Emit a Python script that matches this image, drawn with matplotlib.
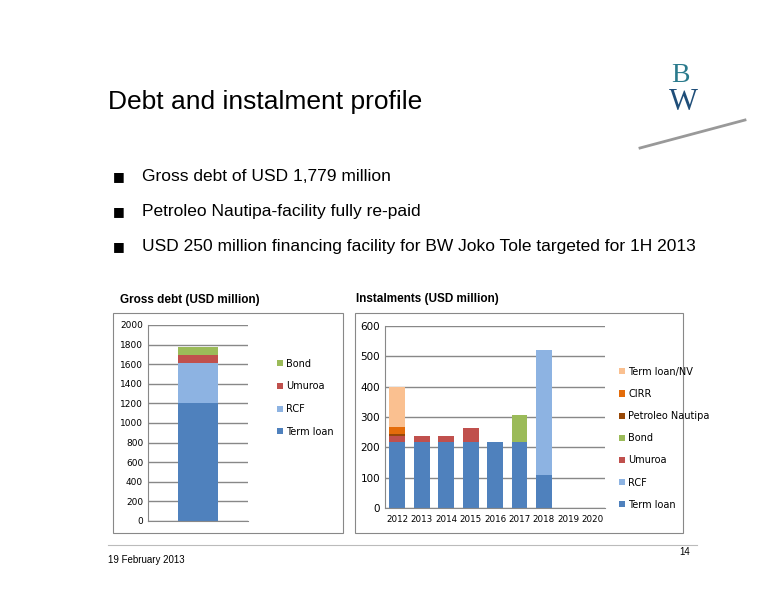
import matplotlib.pyplot as plt
from matplotlib.patches import Rectangle

# Gross debt (left)
gross_labels = ["Term loan", "RCF", "Umuroa", "Bond"]
gross_values = [1200, 410, 80, 89]
gross_colors = ["#4f81bd", "#8db3e2", "#c0504d", "#9bbb59"]

# Instalments (right)
years = ["2012", "2013", "2014", "2015", "2016", "2017", "2018", "2019", "2020"]
inst_series = {
    "Term loan":        [218, 218, 218, 218, 218, 218, 108, 0, 0],
    "RCF":              [0, 0, 0, 0, 0, 0, 412, 0, 0],
    "Umuroa":           [20, 18, 18, 47, 0, 0, 0, 0, 0],
    "Bond":             [0, 0, 0, 0, 0, 88, 0, 0, 0],
    "Petroleo Nautipa": [5, 0, 0, 0, 0, 0, 0, 0, 0],
    "CIRR":             [23, 0, 0, 0, 0, 0, 0, 0, 0],
    "Term loan/NV":     [134, 0, 0, 0, 0, 0, 0, 0, 0],
}
inst_colors = ["#4f81bd", "#8db3e2", "#c0504d", "#9bbb59", "#984807", "#e46c0a", "#fac090"]

W, H = 776, 600
fig = plt.figure(figsize=(W / 100, H / 100), dpi=100)

def fx(x): return x / W
def fy(y): return 1 - y / H

# title and bullets
fig.text(fx(108), fy(102), "Debt and instalment profile", fontsize=19, va="center", family="Liberation Sans")
bullets = ["Gross debt of USD 1,779 million",
           "Petroleo Nautipa-facility fully re-paid",
           "USD 250 million financing facility for BW Joko Tole targeted for 1H 2013"]
for i, b in enumerate(bullets):
    y = 177 + i * 35
    fig.text(fx(113), fy(y), "\u25a0", fontsize=9, va="center", family="DejaVu Sans")
    fig.text(fx(142), fy(y), b, fontsize=12.5, va="center", family="Liberation Sans")

# logo
fig.text(fx(680), fy(76), "B", fontsize=20, color="#2a7a8c", ha="center", va="center", family="Liberation Serif")
fig.text(fx(683), fy(103), "W", fontsize=22, color="#1f4e79", ha="center", va="center", family="Liberation Serif")
fig.add_artist(plt.Line2D([fx(640), fx(745)], [fy(148), fy(120)], color="#999999", lw=2))

fig.text(fx(120), fy(300), "Gross debt (USD million)", fontsize=8.5, weight="bold", va="center", family="Liberation Sans")
fig.text(fx(356), fy(299), "Instalments (USD million)", fontsize=8.5, weight="bold", va="center", family="Liberation Sans")

# frames
for x0, x1 in [(113, 343), (355, 683)]:
    fig.add_artist(Rectangle((fx(x0), fy(533)), fx(x1 - x0), (533 - 313) / H,
                             fill=False, ec="#888888", lw=0.8))

def style(ax):
    for s in ["top", "right"]:
        ax.spines[s].set_visible(False)
    ax.spines["left"].set_color("#888888")
    ax.spines["bottom"].set_color("#888888")
    ax.yaxis.grid(True, color="#888888", lw=1)
    ax.set_axisbelow(True)
    ax.tick_params(labelsize=6.5, length=0)

# left chart
ax1 = fig.add_axes([fx(148), fy(521), fx(100), (521 - 325) / H])
bottom = 0
for lab, v, c in zip(gross_labels, gross_values, gross_colors):
    ax1.bar([0], [v], bottom=bottom, width=0.4, color=c, label=lab)
    bottom += v
ax1.set_xlim(-0.5, 0.5)
ax1.set_ylim(0, 2000)
ax1.set_yticks(range(0, 2001, 200))
ax1.set_xticks([])
style(ax1)
h, l = ax1.get_legend_handles_labels()
fig.legend(h[::-1], l[::-1], loc="upper left", bbox_to_anchor=(fx(268), fy(350)),
           frameon=False, fontsize=7, handlelength=0.6, handleheight=0.6,
           labelspacing=1.3, handletextpad=0.4)

# right chart
ax2 = fig.add_axes([fx(385), fy(508), fx(220), (508 - 326) / H])
xs = range(len(years))
bottom = [0] * len(years)
for (lab, vals), c in zip(inst_series.items(), inst_colors):
    ax2.bar(xs, vals, bottom=bottom, width=0.65, color=c, label=lab)
    bottom = [b + v for b, v in zip(bottom, vals)]
ax2.set_xlim(-0.5, len(years) - 0.5)
ax2.set_ylim(0, 600)
ax2.set_yticks(range(0, 601, 100))
ax2.set_xticks(list(xs))
ax2.set_xticklabels(years)
style(ax2)
ax2.tick_params(axis="y", labelsize=7.5)
ax2.tick_params(axis="x", labelsize=6.3, pad=5)
h, l = ax2.get_legend_handles_labels()
fig.legend(h[::-1], l[::-1], loc="upper left", bbox_to_anchor=(fx(610), fy(358)),
           frameon=False, fontsize=7, handlelength=0.6, handleheight=0.6,
           labelspacing=1.25, handletextpad=0.4)

fig.add_artist(plt.Line2D([fx(108), fx(697)], [fy(545), fy(545)], color="#bbbbbb", lw=0.8))
fig.text(fx(108), fy(560), "19 February 2013", fontsize=7, va="center", family="Liberation Sans")
fig.text(fx(690), fy(552), "14", fontsize=7, ha="right", va="center", family="Liberation Sans")

fig.savefig("out.png", dpi=100)
